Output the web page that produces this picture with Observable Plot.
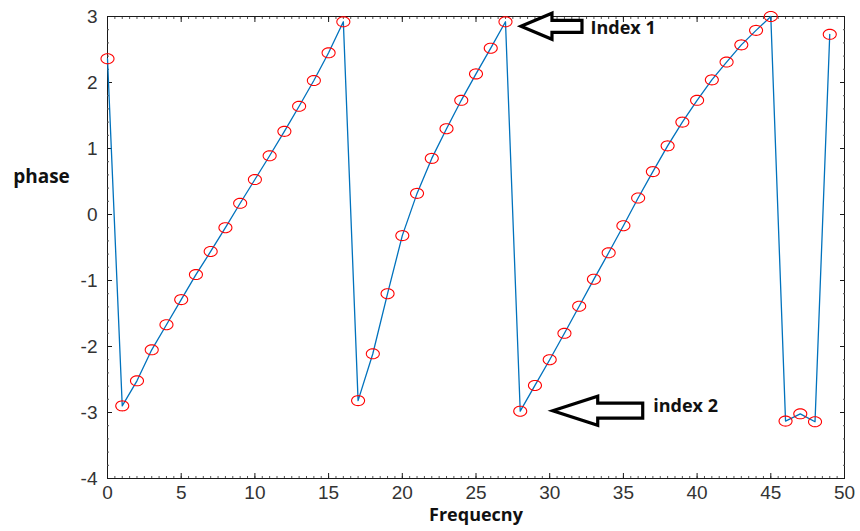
<!DOCTYPE html>
<html>
<head>
<meta charset="utf-8">
<script src="https://cdn.jsdelivr.net/npm/d3@7"></script>
<script src="https://cdn.jsdelivr.net/npm/@observablehq/plot@0.6"></script>
<style>
  html, body { margin: 0; padding: 0; background: #fff; }
  #chart { width: 860px; height: 531px; }
</style>
</head>
<body>
<div id="chart"></div>
<script>
// ---- data ----
const freq = [0,1,2,3,4,5,6,7,8,9,10,11,12,13,14,15,16,17,18,19,20,21,22,23,24,25,26,27,28,29,30,31,32,33,34,35,36,37,38,39,40,41,42,43,44,45,46,47,48,49];
const phase = [2.36,-2.90,-2.52,-2.05,-1.67,-1.29,-0.91,-0.56,-0.20,0.17,
               0.53,0.89,1.26,1.64,2.03,2.45,2.92,-2.82,-2.11,-1.20,
               -0.32,0.32,0.85,1.30,1.73,2.13,2.52,2.92,-2.98,-2.59,
               -2.20,-1.80,-1.39,-0.98,-0.58,-0.17,0.25,0.65,1.04,1.40,
               1.73,2.04,2.31,2.57,2.79,3.00,-3.13,-3.02,-3.14,2.73];
const xTicks = [0,5,10,15,20,25,30,35,40,45,50];
const yTicks = [-4,-3,-2,-1,0,1,2,3];
const xLabel = "Frequecny";
const yLabel = "phase";
const noteText = ["Index 1", "index 2"];
const noteIndex = [27, 28];

const points = freq.map((f, i) => ({f, p: phase[i]}));
const notes = noteText.map((t, i) => ({text: t, f: freq[noteIndex[i]], p: phase[noteIndex[i]]}));

// minor tick positions
const xMinor = d3.range(0, 50.001, 0.5);
const yMinor = d3.range(-4, 3.001, 0.2);

// ellipse marker (the reference markers are slightly wider than tall)
const ellipse = {
  draw(ctx) {
    const rx = 6.5, ry = 5, n = 36;
    for (let k = 0; k <= n; ++k) {
      const a = 2 * Math.PI * k / n;
      const px = rx * Math.cos(a), py = ry * Math.sin(a);
      if (k === 0) ctx.moveTo(px, py); else ctx.lineTo(px, py);
    }
    ctx.closePath();
  }
};

// arrow shapes (pixel offsets from the annotated point)
const arrowStyle = [
  {dx: 16, dy: 5, head: 31, hh: 13, sh: 6, len: 61, tdx: 85},
  {dx: 33, dy: 0, head: 45, hh: 14.5, sh: 7.5, len: 90, tdx: 133}
];

function arrowMark(index, scales) {
  const g = d3.create("svg:g");
  notes.forEach((n, i) => {
    const s = arrowStyle[i];
    const tx = scales.x(n.f) + s.dx, ty = scales.y(n.p) + s.dy;
    const pts = [
      [tx, ty], [tx + s.head, ty - s.hh], [tx + s.head, ty - s.sh], [tx + s.len, ty - s.sh],
      [tx + s.len, ty + s.sh], [tx + s.head, ty + s.sh], [tx + s.head, ty + s.hh]
    ];
    g.append("path")
      .attr("d", "M" + pts.map(p => p.join(",")).join("L") + "Z")
      .attr("fill", "white")
      .attr("stroke", "black")
      .attr("stroke-width", 3.2)
      .attr("stroke-linejoin", "miter");
  });
  return g.node();
}

const tickFont = "'Liberation Sans', Arial, sans-serif";
const boldFont = "'Open Sans', sans-serif";
const fmt = d => String(d);

const chart = Plot.plot({
  width: 860,
  height: 531,
  marginLeft: 107,
  marginRight: 16,
  marginTop: 16,
  marginBottom: 53,
  style: {background: "white", fontFamily: tickFont},
  x: {domain: [0, 50]},
  y: {domain: [-4, 3]},
  marks: [
    Plot.frame({stroke: "#1a1a1a", strokeWidth: 1}),
    // minor ticks (inward)
    Plot.axisX(xMinor, {anchor: "bottom", tickSize: -2, fill: "none", label: null, stroke: "#555"}),
    Plot.axisX(xMinor, {anchor: "top", tickSize: -2, fill: "none", label: null, stroke: "#555"}),
    Plot.axisY(yMinor, {anchor: "left", tickSize: -2, fill: "none", label: null, stroke: "#555"}),
    Plot.axisY(yMinor, {anchor: "right", tickSize: -2, fill: "none", label: null, stroke: "#555"}),
    // major ticks + labels
    Plot.axisX(xTicks, {anchor: "bottom", tickSize: -5, tickPadding: 12, tickFormat: fmt, fontSize: 19, fill: "#333", stroke: "#1a1a1a", label: null}),
    Plot.axisX(xTicks, {anchor: "top", tickSize: -5, fill: "none", label: null, stroke: "#1a1a1a"}),
    Plot.axisY(yTicks, {anchor: "left", tickSize: -5, tickPadding: 15, tickFormat: fmt, fontSize: 19, fill: "#333", stroke: "#1a1a1a", label: null}),
    Plot.axisY(yTicks, {anchor: "right", tickSize: -5, fill: "none", label: null, stroke: "#1a1a1a"}),
    // data
    Plot.line(points, {x: "f", y: "p", stroke: "#0072BD", strokeWidth: 1.3}),
    Plot.dot(points, {x: "f", y: "p", symbol: ellipse, r: 6, stroke: "#ff0000", strokeWidth: 1.1, fill: "none"}),
    // axis titles
    Plot.text([xLabel], {text: d => d, frameAnchor: "bottom", dy: 42, fontSize: 18, fontWeight: "bold", fontFamily: boldFont, fill: "#111"}),
    Plot.text([yLabel], {text: d => d, frameAnchor: "top-left", dx: -66, dy: 160, textAnchor: "middle", lineAnchor: "middle", fontSize: 19, fontWeight: "bold", fontFamily: boldFont, fill: "#111"}),
    // annotations
    arrowMark,
    Plot.text([notes[0]], {x: "f", y: "p", text: "text", dx: arrowStyle[0].tdx, dy: arrowStyle[0].dy + 1, textAnchor: "start", lineAnchor: "middle", fontSize: 18, fontWeight: "bold", fontFamily: boldFont, fill: "#111"}),
    Plot.text([notes[1]], {x: "f", y: "p", text: "text", dx: arrowStyle[1].tdx, dy: -5, textAnchor: "start", lineAnchor: "middle", fontSize: 18, fontWeight: "bold", fontFamily: boldFont, fill: "#111"})
  ]
});

document.getElementById("chart").appendChild(chart);
</script>
</body>
</html>
